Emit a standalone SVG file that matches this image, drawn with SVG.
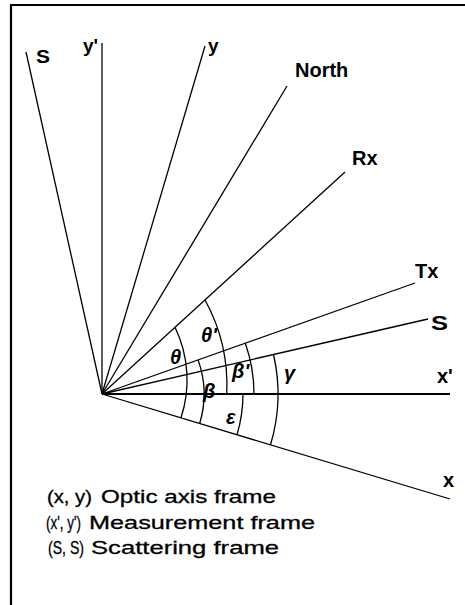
<svg xmlns="http://www.w3.org/2000/svg" width="465" height="605" viewBox="0 0 465 605">
<style>
.ln{stroke:#000;stroke-width:1.3;fill:none}
.arc{stroke:#000;stroke-width:1.3;fill:none}
.lb{font-family:"Liberation Sans",Arial,sans-serif;font-weight:bold;font-size:20px;fill:#000}
.gk{font-family:"Liberation Sans",Arial,sans-serif;font-weight:bold;font-style:italic;font-size:20px;fill:#000}
.lg{font-family:"Liberation Sans",Arial,sans-serif;font-size:19px;fill:#000;stroke:#000;stroke-width:0.3}
</style>
<rect width="465" height="605" fill="#fff"/>
<path id="frame" d="M11,605 V5 H465" stroke="#000" stroke-width="2.2" fill="none"/>
<g id="connectors">
<line class="ln" x1="102" y1="394" x2="26" y2="52"/>
<line class="ln" x1="102" y1="394" x2="102" y2="43"/>
<line class="ln" x1="102" y1="394" x2="205" y2="46"/>
<line class="ln" x1="102" y1="394" x2="287" y2="86"/>
<line class="ln" x1="102" y1="394" x2="345" y2="172"/>
<line class="ln" x1="102" y1="394" x2="415" y2="283"/>
<line class="ln" x1="102" y1="394" x2="428" y2="319"/>
<line class="ln" x1="102" y1="394" x2="450" y2="394" style="stroke-width:2"/>
<line class="ln" x1="102" y1="394" x2="450" y2="499"/>
</g>
<g id="arcs">
<path id="arc-theta" class="arc" d="M175,327.3 A121,121 0 0 1 181,417.8"/>
<path id="arc-thetap" class="arc" d="M205,300 A176,176 0 0 1 226.7,394"/>
<path id="arc-beta" class="arc" d="M198.1,359.9 A102,102 0 0 1 199.7,423.5"/>
<path id="arc-betap" class="arc" d="M245.3,343.2 A152,152 0 0 1 254,394"/>
<path id="arc-eps" class="arc" d="M243,394 A141,141 0 0 1 237,434.7"/>
<path id="arc-gamma" class="arc" d="M273.5,354.5 A176,176 0 0 1 270.5,444.8"/>
</g>
<g id="labels">
<g id="lbl-S1"><text class="lb" x="36" y="63" style="font-size:18px" textLength="14" lengthAdjust="spacingAndGlyphs">S</text></g>
<g id="lbl-yp"><text class="lb" x="83" y="52" style="font-size:19px">y'</text></g>
<g id="lbl-y"><text class="lb" x="208" y="52" style="font-size:19px">y</text></g>
<g id="lbl-north"><text class="lb" x="295" y="77">North</text></g>
<g id="lbl-rx"><text class="lb" x="352" y="165">Rx</text></g>
<g id="lbl-tx"><text class="lb" x="415" y="278">Tx</text></g>
<g id="lbl-S2"><text class="lb" x="431" y="330" textLength="17" lengthAdjust="spacingAndGlyphs">S</text></g>
<g id="lbl-xp"><text class="lb" x="437" y="383">x'</text></g>
<g id="lbl-x"><text class="lb" x="443" y="487">x</text></g>
</g>
<g id="angles">
<text class="gk" x="170" y="364">θ</text>
<text class="gk" x="201" y="342">θ'</text>
<text class="gk" x="203" y="398">β</text>
<text class="gk" x="232" y="378">β'</text>
<text class="gk" x="284" y="380">γ</text>
<text class="gk" x="226" y="424">ε</text>
</g>
<g id="legend">
<text class="lg" y="503"><tspan x="47" textLength="45" lengthAdjust="spacingAndGlyphs">(x, y)</tspan><tspan x="101" textLength="175" lengthAdjust="spacingAndGlyphs">Optic axis frame</tspan></text>
<text class="lg" y="529"><tspan x="46" textLength="35" lengthAdjust="spacingAndGlyphs">(x', y')</tspan><tspan x="89" textLength="226" lengthAdjust="spacingAndGlyphs">Measurement frame</tspan></text>
<text class="lg" y="554"><tspan x="48" textLength="36" lengthAdjust="spacingAndGlyphs">(S, S)</tspan><tspan x="91" textLength="188" lengthAdjust="spacingAndGlyphs">Scattering frame</tspan></text>
</g>
</svg>
